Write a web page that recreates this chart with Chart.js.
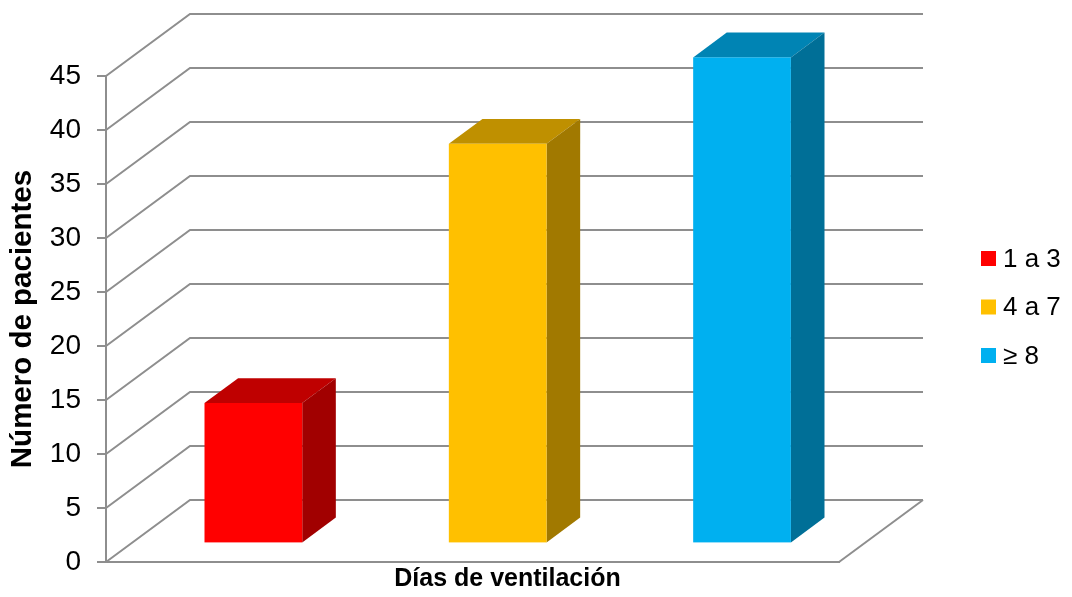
<!DOCTYPE html>
<html>
<head>
<meta charset="utf-8">
<script src="https://cdn.jsdelivr.net/npm/chart.js@4.4.1/dist/chart.umd.min.js"></script>
<style>
  html, body { margin: 0; padding: 0; background: #fff; }
  #wrap { width: 1072px; height: 597px; }
</style>
</head>
<body>
<div id="wrap"><canvas id="chart" width="1072" height="597"></canvas></div>
<script>
// data
const categories = [''];
const seriesNames = ['1 a 3', '4 a 7', '≥ 8'];
const seriesValues = [[13], [37], [45]];
const seriesColors = ['#FF0000', '#FFC000', '#00B0F0'];
const yTickValues = [0, 5, 10, 15, 20, 25, 30, 35, 40, 45];
const yTitle = 'Número de pacientes';
const xTitle = 'Días de ventilación';

const FONT = "'Liberation Sans', Arial, sans-serif";
const GRID = '#8e8e8e';
// depth of the fake 3d box (back wall offset) and where the bars sit in it
const DX = 84, DY = 62;
const FRONT = 0.3, BACK = 0.7;

function shade(hex, k) {
  const n = parseInt(hex.slice(1), 16);
  const r = Math.round(((n >> 16) & 255) * k);
  const g = Math.round(((n >> 8) & 255) * k);
  const b = Math.round((n & 255) * k);
  return `rgb(${r},${g},${b})`;
}

function poly(ctx, pts) {
  ctx.beginPath();
  ctx.moveTo(pts[0][0], pts[0][1]);
  for (let i = 1; i < pts.length; i++) ctx.lineTo(pts[i][0], pts[i][1]);
  ctx.closePath();
  ctx.fill();
}

const box3d = {
  id: 'box3d',
  beforeDatasetsDraw(chart) {
    const { ctx, chartArea: a, scales: { y } } = chart;
    ctx.save();

    // side wall + back wall gridlines
    ctx.strokeStyle = GRID;
    ctx.lineWidth = 2;
    yTickValues.forEach((v) => {
      const py = y.getPixelForValue(v);
      ctx.beginPath();
      ctx.moveTo(a.left, py);
      ctx.lineTo(a.left + DX, py - DY);
      ctx.lineTo(a.right + DX, py - DY);
      ctx.stroke();
    });
    // floor right edge
    const p0 = y.getPixelForValue(0);
    ctx.beginPath();
    ctx.moveTo(a.right, p0);
    ctx.lineTo(a.right + DX, p0 - DY);
    ctx.stroke();

    // bars as boxes
    const ddx = (BACK - FRONT) * DX, ddy = (BACK - FRONT) * DY;
    chart.data.datasets.forEach((ds, i) => {
      const col = seriesColors[i];
      chart.getDatasetMeta(i).data.forEach((bar) => {
        const x0 = bar.x - bar.width / 2 + FRONT * DX;
        const x1 = x0 + bar.width;
        const yt = bar.y - FRONT * DY;
        const yb = bar.base - FRONT * DY;
        ctx.fillStyle = shade(col, 0.75);
        poly(ctx, [[x0, yt], [x0 + ddx, yt - ddy], [x1 + ddx, yt - ddy], [x1, yt]]);
        ctx.fillStyle = shade(col, 0.63);
        poly(ctx, [[x1, yt], [x1 + ddx, yt - ddy], [x1 + ddx, yb - ddy], [x1, yb]]);
        ctx.fillStyle = col;
        ctx.fillRect(x0, yt, bar.width, yb - yt);
      });
    });
    ctx.restore();
    return false; // skip the flat bars
  },
  afterDraw(chart) {
    const { ctx } = chart;
    ctx.save();
    // legend
    ctx.font = '26px ' + FONT;
    ctx.textBaseline = 'middle';
    ctx.textAlign = 'left';
    chart.data.datasets.forEach((ds, i) => {
      const cy = 258.5 + i * 48.5;
      ctx.fillStyle = seriesColors[i];
      ctx.fillRect(981, cy - 7.5, 15, 15);
      ctx.fillStyle = '#000';
      ctx.fillText(ds.label, 1003, cy + 1);
    });
    // x axis title, centred under the whole box
    ctx.font = 'bold 25px ' + FONT;
    ctx.textAlign = 'center';
    ctx.fillText(xTitle, 507.5, 579);
    ctx.restore();
  }
};

const datasets = seriesNames.map((name, i) => ({
  label: name,
  data: seriesValues[i],
  backgroundColor: seriesColors[i],
  categoryPercentage: 1.0,
  barPercentage: 0.4,
}));

new Chart(document.getElementById('chart'), {
  type: 'bar',
  data: { labels: categories, datasets: datasets },
  options: {
    responsive: false,
    animation: false,
    layout: { padding: { left: 0, top: 76, right: 233, bottom: 0 } },
    plugins: {
      legend: { display: false },
      tooltip: { enabled: false },
    },
    scales: {
      x: {
        ticks: { display: false },
        grid: { display: true, drawOnChartArea: false, drawTicks: false, color: GRID },
        border: { display: true, color: GRID, width: 2 },
        afterFit: (scale) => { scale.height = 35; },
      },
      y: {
        min: 0,
        max: 45,
        ticks: {
          stepSize: 5,
          padding: 16,
          color: '#000',
          font: { family: FONT, size: 28 },
        },
        grid: { drawOnChartArea: false, drawTicks: true, tickLength: 9, color: GRID, lineWidth: 2 },
        border: { display: true, color: GRID, width: 2 },
        title: {
          display: true,
          text: yTitle,
          color: '#000',
          font: { family: FONT, size: 29.5, weight: 'bold' },
          padding: { top: 5, bottom: 0 },
        },
        afterFit: (scale) => { scale.width = 106; },
      },
    },
  },
  plugins: [box3d],
});
</script>
</body>
</html>
